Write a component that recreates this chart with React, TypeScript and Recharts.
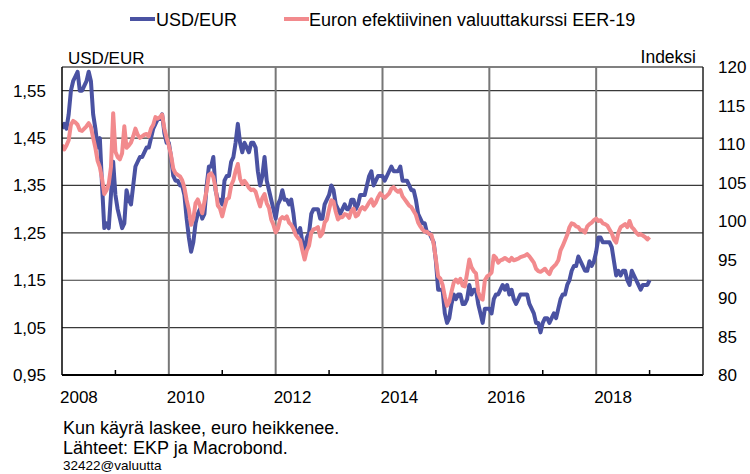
import React from 'react';
import { LineChart, Line, XAxis, YAxis, CartesianGrid, ReferenceLine } from 'recharts';

// two readings per month, Jan 2008 .. Jan 2019
const startYear = 2008;
const pointsPerYear = 24;

const usdEur = [
  1.47, 1.48, 1.47, 1.50, 1.55, 1.57, 1.58, 1.59, 1.55, 1.55, 1.56, 1.57, 1.59, 1.57, 1.50, 1.47, 1.43, 1.45, 1.35, 1.26, 1.27, 1.26, 1.33, 1.40, // 2008
  1.33, 1.30, 1.28, 1.26, 1.27, 1.34, 1.32, 1.31, 1.35, 1.39, 1.40, 1.41, 1.41, 1.42, 1.43, 1.43, 1.45, 1.47, 1.48, 1.49, 1.49, 1.50, 1.46, 1.44, // 2009
  1.44, 1.41, 1.37, 1.36, 1.36, 1.35, 1.35, 1.33, 1.28, 1.24, 1.21, 1.23, 1.27, 1.29, 1.30, 1.28, 1.29, 1.35, 1.39, 1.39, 1.41, 1.34, 1.32, 1.32, // 2010
  1.31, 1.36, 1.37, 1.37, 1.40, 1.41, 1.44, 1.48, 1.44, 1.42, 1.44, 1.43, 1.42, 1.44, 1.44, 1.43, 1.38, 1.35, 1.37, 1.41, 1.36, 1.34, 1.32, 1.30, // 2011
  1.28, 1.31, 1.32, 1.34, 1.32, 1.32, 1.31, 1.32, 1.29, 1.25, 1.25, 1.26, 1.23, 1.21, 1.24, 1.25, 1.29, 1.30, 1.30, 1.30, 1.28, 1.28, 1.31, 1.32, // 2012
  1.33, 1.35, 1.34, 1.31, 1.30, 1.29, 1.30, 1.31, 1.30, 1.30, 1.32, 1.32, 1.30, 1.31, 1.33, 1.33, 1.33, 1.35, 1.37, 1.38, 1.35, 1.36, 1.37, 1.37, // 2013
  1.37, 1.36, 1.37, 1.38, 1.39, 1.38, 1.38, 1.38, 1.39, 1.36, 1.36, 1.36, 1.35, 1.34, 1.34, 1.32, 1.29, 1.28, 1.27, 1.27, 1.25, 1.25, 1.24, 1.23, // 2014
  1.19, 1.13, 1.13, 1.13, 1.08, 1.06, 1.07, 1.10, 1.12, 1.11, 1.12, 1.12, 1.10, 1.10, 1.11, 1.14, 1.12, 1.13, 1.13, 1.10, 1.08, 1.06, 1.09, 1.09, // 2015
  1.09, 1.08, 1.11, 1.12, 1.12, 1.13, 1.14, 1.13, 1.14, 1.12, 1.13, 1.11, 1.10, 1.11, 1.12, 1.12, 1.12, 1.12, 1.10, 1.09, 1.08, 1.06, 1.06, 1.04, // 2016
  1.06, 1.07, 1.07, 1.06, 1.07, 1.08, 1.07, 1.09, 1.11, 1.12, 1.12, 1.14, 1.15, 1.17, 1.18, 1.18, 1.20, 1.19, 1.18, 1.17, 1.17, 1.19, 1.18, 1.19, // 2017
  1.21, 1.24, 1.24, 1.23, 1.23, 1.23, 1.23, 1.22, 1.19, 1.16, 1.17, 1.16, 1.17, 1.17, 1.15, 1.14, 1.17, 1.16, 1.15, 1.14, 1.13, 1.14, 1.14, 1.14, // 2018
  1.15,
];

const eer19 = [
  109.9, 109.3, 109.8, 110.5, 112.5, 113.0, 112.8, 112.5, 111.8, 111.7, 112.0, 112.3, 112.7, 112.2, 110.8, 109.5, 107.8, 107.0, 105.5, 103.5, 104.0, 104.8, 107.0, 114.0, // 2008
  109.0, 108.3, 108.0, 108.8, 112.3, 109.5, 109.8, 110.2, 111.0, 112.0, 111.2, 110.8, 111.0, 111.2, 111.3, 111.0, 112.0, 112.5, 113.5, 113.3, 113.5, 113.8, 112.0, 110.8, // 2009
  109.8, 108.5, 106.8, 106.2, 106.0, 105.8, 105.3, 104.3, 102.7, 101.5, 99.5, 100.3, 102.3, 102.8, 102.0, 101.0, 102.5, 104.0, 106.0, 106.2, 105.7, 104.3, 102.0, 101.6, // 2010
  100.6, 101.8, 102.8, 103.0, 104.6, 105.3, 106.5, 107.4, 105.5, 104.8, 105.2, 104.8, 104.3, 104.0, 104.1, 103.8, 102.8, 101.9, 103.0, 103.5, 102.3, 101.7, 100.2, 99.5, // 2011
  98.5, 99.0, 100.2, 100.5, 100.3, 100.6, 99.8, 99.5, 99.0, 98.2, 97.8, 97.5, 96.2, 95.0, 96.2, 96.8, 98.5, 98.9, 99.0, 99.2, 98.0, 98.4, 99.8, 100.2, // 2012
  101.5, 102.7, 102.5, 101.2, 100.2, 100.5, 100.5, 100.9, 100.8, 100.4, 101.3, 101.6, 100.6, 100.8, 101.5, 101.8, 101.5, 101.9, 102.4, 102.8, 102.0, 102.4, 103.1, 103.6, // 2013
  103.3, 103.0, 103.3, 103.6, 104.2, 104.4, 104.0, 103.8, 104.0, 103.2, 102.8, 102.4, 102.0, 101.8, 101.3, 100.8, 99.8, 99.3, 98.9, 98.6, 98.6, 98.3, 98.2, 97.0, // 2014
  95.0, 92.8, 92.5, 91.7, 90.2, 89.0, 89.5, 90.8, 92.0, 92.4, 92.0, 92.5, 91.6, 91.5, 93.2, 95.0, 94.0, 93.5, 93.2, 90.8, 90.0, 89.8, 92.3, 92.8, // 2015
  93.0, 93.3, 95.5, 95.2, 94.6, 94.9, 95.0, 95.2, 95.0, 94.8, 95.2, 94.9, 95.0, 95.1, 95.3, 95.4, 95.5, 95.7, 95.4, 95.0, 94.6, 93.8, 93.5, 93.4, // 2016
  93.6, 93.8, 93.4, 93.1, 93.8, 94.1, 94.4, 94.9, 96.2, 96.8, 97.5, 98.2, 99.2, 99.7, 99.6, 99.3, 99.2, 98.8, 98.8, 98.5, 99.3, 99.6, 99.8, 100.1, // 2017
  100.3, 100.0, 100.1, 99.7, 99.6, 99.4, 98.9, 98.4, 97.6, 97.2, 98.5, 99.2, 99.4, 99.6, 99.2, 100.0, 99.2, 98.9, 98.5, 98.2, 98.3, 98.1, 97.9, 97.6, // 2018
  97.9,
];

const usdTicks = [0.95, 1.05, 1.15, 1.25, 1.35, 1.45, 1.55];
const indexTicks = [80, 85, 90, 95, 100, 105, 110, 115, 120];
const yearTicks = [2008, 2009, 2010, 2011, 2012, 2013, 2014, 2015, 2016, 2017, 2018, 2019, 2020];
const labelYears = [2008, 2010, 2012, 2014, 2016, 2018];
const gridYears = [2010, 2012, 2014, 2016, 2018];

const seriesNames = ['USD/EUR', 'Euron efektiivinen valuuttakurssi EER-19'];
const notes = ['Kun käyrä laskee, euro heikkenee.', 'Lähteet: EKP ja Macrobond.'];
const code = '32422@valuutta';

const BLUE = '#4a52a2';
const PINK = '#f28a8d';
const FONT = '"Liberation Sans", Arial, sans-serif';

const data = usdEur.map((v, i) => ({ t: startYear + i / pointsPerYear, usd: v, eer: eer19[i] }));

function YearTick(props: any) {
  const { x, y, payload } = props;
  const v = payload.value;
  return (
    <g>
      {v % 2 === 1 && <line x1={x} x2={x} y1={y} y2={y - 5} stroke="#000" strokeWidth={1.5} />}
      {labelYears.includes(v) && (
        <text x={x - 2} y={y + 28} textAnchor="start" fontSize={17} fill="#000">{v}</text>
      )}
    </g>
  );
}

const abs = (left: number, top: number, size: number, extra: any = {}) => ({
  position: 'absolute' as const, left, top, fontSize: size, lineHeight: 1, whiteSpace: 'nowrap' as const, color: '#000', ...extra,
});

export default function App() {
  return (
    <div style={{ position: 'absolute', left: 0, top: 0, width: 750, height: 474, background: '#fff', fontFamily: FONT }}>
      <div style={{ position: 'absolute', left: 130, top: 17, width: 25, height: 4, background: BLUE }} />
      <div style={abs(156, 11, 18)}>{seriesNames[0]}</div>
      <div style={{ position: 'absolute', left: 284, top: 17, width: 25, height: 4, background: PINK }} />
      <div style={abs(309, 11, 18)}>{seriesNames[1]}</div>

      <div style={abs(68, 49.5, 17)}>USD/EUR</div>
      <div style={abs(0, 48.7, 17.5, { left: undefined, right: 54 })}>Indeksi</div>

      <LineChart width={750} height={474} data={data} margin={{ top: 67, right: 0, bottom: 0, left: 0 }}>
        <CartesianGrid yAxisId="l" vertical={false} stroke="#3a3a3a" strokeWidth={1.2} />
        {gridYears.map((yr) => (
          <ReferenceLine key={yr} x={yr} yAxisId="l" stroke="#777" strokeWidth={2} />
        ))}
        <ReferenceLine y={1.6} yAxisId="l" stroke="#777" strokeWidth={1.5} />
        <XAxis
          type="number"
          dataKey="t"
          domain={[2008, 2020]}
          ticks={yearTicks}
          interval={0}
          allowDataOverflow
          height={99}
          tickLine={false}
          tickSize={0}
          tickMargin={0}
          axisLine={{ stroke: '#000', strokeWidth: 2 }}
          tick={<YearTick />}
        />
        <YAxis
          yAxisId="l"
          domain={[0.95, 1.6]}
          ticks={usdTicks}
          interval={0}
          allowDataOverflow
          width={62}
          tickLine={false}
          tickSize={0}
          tickMargin={16}
          axisLine={{ stroke: '#000', strokeWidth: 1.5 }}
          tick={{ fill: '#000', fontSize: 17 }}
          tickFormatter={(v: number) => v.toFixed(2).replace('.', ',')}
        />
        <YAxis
          yAxisId="r"
          orientation="right"
          domain={[80, 120]}
          ticks={indexTicks}
          interval={0}
          allowDataOverflow
          width={47}
          tickLine={false}
          tickSize={0}
          tickMargin={15}
          axisLine={{ stroke: '#222', strokeWidth: 1.5 }}
          tick={{ fill: '#000', fontSize: 17, textAnchor: 'start' }}
        />
        <Line yAxisId="l" dataKey="usd" stroke={BLUE} strokeWidth={4} dot={false} isAnimationActive={false} strokeLinejoin="round" />
        <Line yAxisId="r" dataKey="eer" stroke={PINK} strokeWidth={4} dot={false} isAnimationActive={false} strokeLinejoin="round" />
      </LineChart>

      <div style={abs(63, 418.5, 18)}>{notes[0]}</div>
      <div style={abs(63, 439, 18)}>{notes[1]}</div>
      <div style={abs(63, 458.6, 13.5)}>{code}</div>
    </div>
  );
}
